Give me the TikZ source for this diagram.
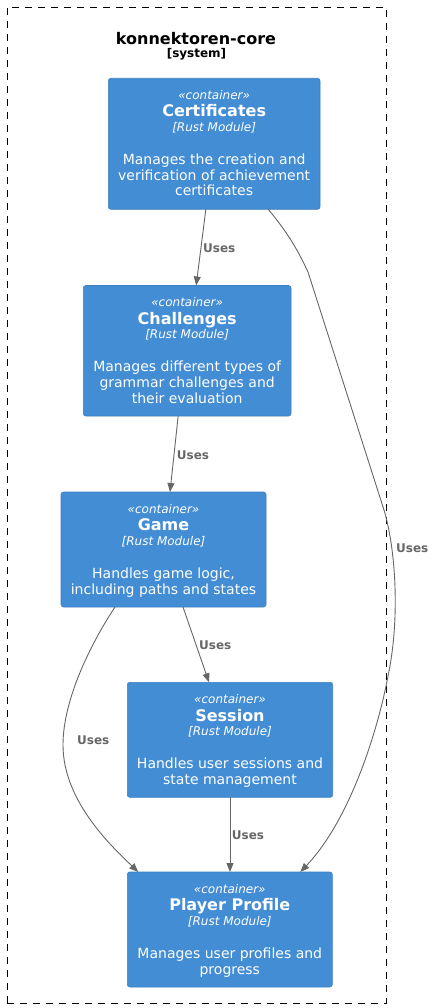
\documentclass[tikz,border=0pt]{standalone}
\usepackage{fontspec}
\setmainfont{DejaVu Sans}
\usetikzlibrary{arrows.meta,calc}
\definecolor{cfill}{HTML}{438DD5}
\definecolor{cline}{HTML}{3C7FC0}
\definecolor{egray}{HTML}{666666}
\tikzset{
  cbox/.style={draw=cline, fill=cfill, rounded corners=2.5pt, line width=0.6pt, inner sep=0pt, outer sep=0pt},
  ctxt/.style={text=white, anchor=base, inner sep=0pt},
  rel/.style={draw=egray, line width=0.9pt, -{Triangle[length=9pt,width=7pt]}},
  rellabel/.style={text=egray, font=\fontsize{12}{14}\selectfont\bfseries, anchor=west, inner sep=0pt},
  sysbound/.style={draw=black, line width=0.8pt, dash pattern=on 7pt off 6pt, inner sep=0pt, outer sep=0pt},
}
% name, left, top, width, height, title, description lines
\newcommand\cfourbox[7]{%
  \node[cbox, minimum width=#4pt, minimum height=#5pt, anchor=north west] (#1) at (#2,#3) {};
  \node[ctxt, font=\fontsize{12}{14}\selectfont\itshape] (#1-st) at ($(#1.north)+(0,21)$) {«container»};
  \node[ctxt, font=\fontsize{16}{19}\selectfont\bfseries] (#1-nm) at ($(#1.north)+(0,38.7)$) {#6};
  \node[ctxt, font=\fontsize{12}{14}\selectfont\itshape] (#1-te) at ($(#1.north)+(0,53)$) {[Rust Module]};
  \foreach \dl [count=\di] in {#7} {
    \node[ctxt, font=\fontsize{14}{16}\selectfont] (#1-d\di) at ($(#1.north)+(0,70.6+15.7*\di)$) {\dl};
  }
}
\begin{document}
\begin{tikzpicture}[x=1pt,y=-1pt]
\useasboundingbox (0,0) rectangle (439,1008);
\node[sysbound, minimum width=379pt, minimum height=996pt, anchor=north west] (sys) at (7,7) {};
\node[font=\fontsize{16}{19}\selectfont\bfseries, anchor=base, inner sep=0pt] (systitle) at (196,44.3) {konnektoren-core};
\node[font=\fontsize{12}{14}\selectfont\bfseries, anchor=base, inner sep=0pt] (systype) at (196.5,57.5) {[system]};

\cfourbox{cert}{108.3}{78.3}{211.7}{131}{Certificates}{Manages the creation and,verification of achievement,certificates}
\cfourbox{chall}{83.3}{285.5}{207.7}{130.5}{Challenges}{Manages different types of,grammar challenges and,their evaluation}
\cfourbox{game}{61}{492}{205}{115}{Game}{{Handles game logic,},including paths and states}
\cfourbox{sess}{127.3}{682.3}{205.4}{115}{Session}{Handles user sessions and,state management}
\cfourbox{pp}{127.3}{872}{205}{115}{Player Profile}{Manages user profiles and,progress}

\draw[rel] ([xshift=-8.3pt]cert.south) -- ([xshift=9pt]chall.north);
\node[rellabel] (l1) at (203,248) {Uses};
\draw[rel] ([xshift=-9pt]chall.south) -- ([xshift=6.5pt]game.north);
\node[rellabel] (l2) at (176.7,455) {Uses};
\draw[rel] ([xshift=19.5pt]game.south) -- ([xshift=-21pt]sess.north);
\node[rellabel] (l3) at (199,645) {Uses};
\draw[rel] (sess.south) -- (sess.south |- pp.north);
\node[rellabel] (l4) at (231.7,835) {Uses};
\draw[rel] ([xshift=-48.5pt]game.south) .. controls (90,645) and (63,700) .. (63,745) .. controls (63,800) and (110,845) .. ([xshift=-91.5pt]pp.north);
\node[rellabel] (l5) at (77,740) {Uses};
\draw[rel] ([xshift=54pt]cert.south) .. controls (290,235) and (300,255) .. (308,272) -- (384,510) .. controls (396,550) and (400,620) .. (388,676) .. controls (378,730) and (350,820) .. ([xshift=70.5pt]pp.north);
\node[rellabel] (l6) at (396,548) {Uses};
\end{tikzpicture}
\end{document}
